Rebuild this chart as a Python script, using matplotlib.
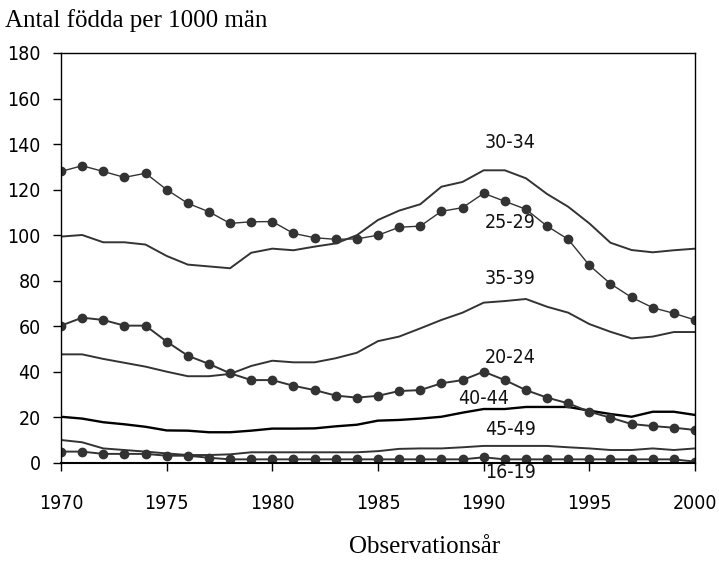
import matplotlib
matplotlib.use("Agg")
import matplotlib.pyplot as plt
from matplotlib import font_manager

years = list(range(1970, 2001))

# Antal födda per 1000 män, per åldersgrupp
a25_29 = [128, 130.5, 128, 125.4, 127.2, 120, 114, 110.3, 105.2, 105.9, 106, 100.8, 98.9, 98.2, 98.4, 100,
          103.5, 104, 110.5, 112.1, 118.4, 114.9, 111.4, 104, 98.2, 86.8, 78.7, 72.7, 68.2, 65.7, 62.8]
a30_34 = [99.4, 100.1, 96.9, 96.9, 95.9, 90.9, 87.1, 86.3, 85.5, 92.3, 94.1, 93.4, 95, 96.4, 100, 106.7,
          110.8, 113.6, 121.3, 123.4, 128.5, 128.5, 125, 118.1, 112.5, 105.2, 96.7, 93.5, 92.5, 93.4, 94.1]
a35_39 = [47.7, 47.7, 45.7, 44, 42.3, 40.1, 38.1, 38.1, 39.1, 42.6, 44.9, 44.2, 44.2, 46, 48.4, 53.5,
          55.5, 59.1, 62.8, 66, 70.4, 71.1, 72, 68.6, 66, 61, 57.6, 54.7, 55.5, 57.5, 57.5]
a20_24 = [60.3, 63.8, 62.8, 60.3, 60.3, 53.3, 47.1, 43.5, 39.4, 36.4, 36.4, 33.9, 32, 29.6, 28.7, 29.5,
          31.6, 32, 35, 36.4, 40.1, 36.4, 32, 28.7, 26.2, 22.5, 19.9, 17.1, 16.2, 15.5, 14.5]
a40_44 = [20.3, 19.5, 17.9, 17, 15.9, 14.3, 14.2, 13.5, 13.5, 14.2, 15.1, 15.1, 15.2, 16.1, 16.8, 18.6,
          18.9, 19.5, 20.3, 22.1, 23.7, 23.7, 24.6, 24.6, 24.6, 23, 21.5, 20.3, 22.5, 22.5, 21.1]
a45_49 = [10.1, 9.1, 6.4, 5.7, 5, 4.2, 3.5, 3.5, 3.8, 4.7, 4.7, 4.7, 4.7, 4.7, 4.7, 5.2,
          6.2, 6.4, 6.4, 6.9, 7.5, 7.5, 7.5, 7.5, 6.9, 6.4, 5.7, 5.7, 6.4, 5.7, 6.4]
a16_19 = [5, 5, 4, 4, 4, 3.2, 3.2, 2.3, 1.6, 1.6, 1.6, 1.6, 1.6, 1.6, 1.6, 1.6,
          1.6, 1.6, 1.6, 1.6, 2.5, 1.6, 1.6, 1.6, 1.6, 1.6, 1.6, 1.6, 1.6, 1.6, 0.6]

labels = ['30-34', '25-29', '35-39', '20-24', '40-44', '45-49', '16-19']
label_x = [1991.25, 1991.25, 1991.25, 1991.25, 1990.0, 1991.25, 1991.25]
label_y = [140.5, 105.8, 81.2, 46.5, 28.5, 14.5, -4]

# smal sans-serif för siffror, serif för rubriker
narrow = font_manager.FontProperties(family='DejaVu Sans', stretch='condensed', size=14)
serif = ['Liberation Serif', 'DejaVu Serif']
col = '#333333'

fig = plt.figure(figsize=(7.19, 5.63), dpi=100)
ax = fig.add_axes([61 / 719, 1 - 463 / 563, 634 / 719, 410 / 563])

ax.plot(years, a30_34, color=col, lw=1.4)
ax.plot(years, a35_39, color=col, lw=1.4)
ax.plot(years, a45_49, color=col, lw=1.4)
ax.plot(years, a40_44, color='black', lw=1.7)
ax.plot(years, a25_29, color=col, lw=1.0, marker='o', ms=6)
ax.plot(years, a20_24, color=col, lw=1.4, marker='o', ms=6)
ax.plot(years, a16_19, color=col, lw=1.4, marker='o', ms=6)

for t, x, y in zip(labels, label_x, label_y):
    ax.text(x, y, t, ha='center', va='center', fontproperties=narrow, color='#111111')

ax.set_xlim(1970, 2000)
ax.set_ylim(0, 180)
ax.set_xticks(range(1970, 2001, 5))
ax.set_yticks(range(0, 181, 20))
ax.tick_params(axis='y', direction='out', length=5.5, pad=9, width=1)
ax.tick_params(axis='x', direction='out', length=5.5, pad=17, width=1)
for lab in ax.get_xticklabels() + ax.get_yticklabels():
    lab.set_fontproperties(narrow)
for s in ax.spines.values():
    s.set_linewidth(1)
    s.set_color('black')
ax.spines['bottom'].set_linewidth(1.5)

fig.text(5 / 719, 1 - 27 / 563, 'Antal födda per 1000 män', family=serif, fontsize=18,
         va='baseline', ha='left')
fig.text(425 / 719, 1 - 553 / 563, 'Observationsår', family=serif, fontsize=18,
         va='baseline', ha='center')

fig.savefig('out.png', dpi=100)
